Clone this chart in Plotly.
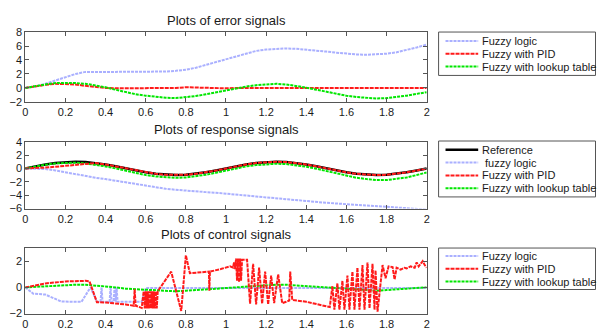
import plotly.graph_objects as go

# ---------------- data ----------------
t = [round(0.05 * i, 2) for i in range(41)]

err_fuzzy = [0, 0.2, 0.6, 1.1, 1.6, 2.0, 2.3, 2.35, 2.3, 2.3, 2.3, 2.3, 2.3, 2.3, 2.35, 2.45,
             2.6, 2.9, 3.3, 3.7, 4.2, 4.6, 5.0, 5.3, 5.5, 5.6, 5.65, 5.6, 5.5, 5.35, 5.2,
             5.05, 4.9, 4.8, 4.75, 4.8, 4.9, 5.1, 5.4, 5.8, 6.2]
err_pid = [0, 0.25, 0.45, 0.6, 0.6, 0.5, 0.3, 0.1, 0.0, -0.05, -0.05, -0.05, -0.05, -0.05, -0.05,
           0.0, 0.1, 0.05, 0.0, -0.05, -0.05, 0.0, 0.0, -0.05, -0.05, 0.0, 0.0, -0.05, 0.0, 0.0,
           0.0, 0.0, 0.0, 0.05, 0.05, 0.05, 0.05, 0.0, 0.0, 0.0, 0.0]
err_lut = [0, 0.3, 0.5, 0.7, 0.75, 0.7, 0.6, 0.4, 0.1, -0.25, -0.6, -0.9, -1.1, -1.3, -1.4, -1.45,
           -1.35, -1.15, -0.9, -0.6, -0.3, 0.0, 0.2, 0.4, 0.55, 0.6, 0.5, 0.3, 0.05, -0.25, -0.55,
           -0.85, -1.1, -1.3, -1.45, -1.5, -1.45, -1.3, -1.1, -0.85, -0.6]

resp_ref = [0, 0.31, 0.59, 0.81, 0.95, 1.0, 0.95, 0.81, 0.59, 0.31, 0, -0.31, -0.59, -0.81, -0.95,
            -1.0, -0.95, -0.81, -0.59, -0.31, 0, 0.31, 0.59, 0.81, 0.95, 1.0, 0.95, 0.81, 0.59,
            0.31, 0, -0.31, -0.59, -0.81, -0.95, -1.0, -0.95, -0.81, -0.59, -0.31, 0]
resp_fuzzy = [0, -0.02, -0.1, -0.3, -0.6, -0.9, -1.2, -1.4, -1.6, -1.85, -2.1, -2.35, -2.6, -2.85,
              -3.05, -3.2, -3.35, -3.45, -3.55, -3.65, -3.75, -3.9, -4.05, -4.2, -4.35, -4.5,
              -4.65, -4.8, -4.95, -5.05, -5.15, -5.25, -5.35, -5.45, -5.55, -5.65, -5.75, -5.85,
              -5.95, -6.05, -6.15]
resp_pid = [0, 0.04, 0.12, 0.25, 0.4, 0.55, 0.68, 0.8, 0.59, 0.31, 0, -0.31, -0.59, -0.81, -0.95,
            -1.0, -0.95, -0.81, -0.59, -0.31, 0, 0.31, 0.59, 0.81, 0.95, 1.0, 0.95, 0.81, 0.59,
            0.31, 0, -0.31, -0.59, -0.81, -0.95, -1.0, -0.95, -0.81, -0.59, -0.31, 0]
resp_lut = [0, 0.3, 0.55, 0.75, 0.85, 0.85, 0.75, 0.55, 0.3, 0.0, -0.35, -0.7, -1.0, -1.2, -1.35,
            -1.4, -1.35, -1.2, -0.95, -0.65, -0.3, 0.0, 0.3, 0.5, 0.65, 0.7, 0.65, 0.5, 0.25,
            -0.05, -0.4, -0.75, -1.1, -1.4, -1.6, -1.75, -1.75, -1.6, -1.35, -1.0, -0.6]

ctrl_fuzzy_t = [0, 0.04, 0.1, 0.18, 0.28, 0.325, 0.357, 0.375, 0.38, 0.385, 0.42, 0.425, 0.43,
                0.44, 0.445, 0.45, 0.455, 0.46, 0.5, 0.58, 0.6, 0.65, 0.8, 1.0, 1.2, 1.4, 1.6,
                1.8, 2.0]
ctrl_fuzzy = [0, -0.48, -0.55, -1.08, -1.1, 0.0, -1.1, -1.1, 0.0, -1.1, -1.1, 0.0, -1.1, -1.1,
              0.0, -1.1, 0.0, -1.1, -1.1, -1.1, -0.05, -0.05, -0.05, -0.05, -0.05, -0.05,
              -0.05, -0.05, -0.05]
ctrl_lut = [0, 0.05, 0.1, 0.15, 0.2, 0.2, 0.2, 0.15, 0.1, 0.0, -0.1, -0.15, -0.2, -0.25, -0.3,
            -0.3, -0.25, -0.2, -0.15, -0.1, 0.0, 0.05, 0.1, 0.15, 0.2, 0.2, 0.2, 0.15, 0.1, 0.05,
            0.0, -0.05, -0.1, -0.15, -0.2, -0.25, -0.2, -0.15, -0.1, -0.05, 0.0]

ctrl_pid_t = [0, 0.1, 0.2, 0.3, 0.32, 0.357, 0.4, 0.45, 0.5, 0.54, 0.545, 0.55, 0.58,
              0.59, 0.595, 0.6, 0.605, 0.61, 0.615, 0.62, 0.625, 0.63, 0.635, 0.64, 0.645, 0.65,
              0.655, 0.66, 0.727, 0.777, 0.80, 0.82, 0.9, 0.915, 0.917, 0.92, 0.974, 1.02,
              1.035, 1.04, 1.045, 1.05, 1.055, 1.06, 1.065, 1.07, 1.075, 1.08, 1.105, 1.12,
              1.135, 1.15, 1.165, 1.18, 1.195, 1.21, 1.225, 1.24, 1.26, 1.28, 1.3, 1.315, 1.32,
              1.33, 1.4, 1.45, 1.517, 1.53, 1.54, 1.555, 1.565, 1.58, 1.59, 1.605, 1.615,
              1.63, 1.64, 1.655, 1.665, 1.68, 1.69, 1.705, 1.715, 1.73, 1.74, 1.745,
              1.755, 1.78, 1.795, 1.81, 1.83, 1.84, 1.85, 1.87,
              1.89, 1.9, 1.92, 1.94, 1.95, 1.96, 1.97, 1.98, 1.99, 2.0]
ctrl_pid = [0, 0.3, 0.45, 0.5, 0.45, -1.13, -1.15, -1.2, -1.3, -1.4, -0.15, -1.4, -1.56,
            -0.3, -1.6, -0.3, -1.6, -0.3, -1.6, -0.3, -1.6, -0.3, -1.6, -0.3, -1.6, -0.3,
            -1.6, -0.3, 1.2, -1.8, 2.45, 1.08, 1.15, 1.2, -0.25, 1.2, 1.4, 1.6,
            1.5, 1.9, 1.4, 2.2, 0.5, 2.2, 0.4, 2.2, 0.5, 2.1, 2.1, -1.25, 1.8, -1.3,
            1.5, -1.25, 1.2, -1.3, 0.9, -1.2, 1.0, -1.2, -1.1, -1.0, 1.2,
            -0.96, -1.1, -1.25, -1.5, 0.1, -1.7, 0.3, -1.7, 0.5, -1.7, 0.9, -1.7,
            1.2, -1.7, 1.5, -1.7, 1.7, -1.7, 1.9, -1.6, 1.8, -1.7, 1.3,
            -1.85, 1.7, 0.7, 1.6, 1.55, 0.6, 1.5, 1.35,
            1.5, 1.45, 1.6, 1.5, 1.9, 1.6, 1.8, 2.0, 1.7, 1.5]

x_ticks = [0, 0.2, 0.4, 0.6, 0.8, 1, 1.2, 1.4, 1.6, 1.8, 2]
titles = ["Plots of error signals", "Plots of response signals", "Plots of control signals"]
legend1 = ["Fuzzy logic", "Fuzzy with PID", "Fuzzy with lookup table"]
legend2 = ["Reference", " fuzzy logic", "Fuzzy with PID", "Fuzzy with lookup table"]
legend3 = ["Fuzzy logic", "Fuzzy with PID", "Fuzzy with lookup table"]

# ---------------- styling ----------------
W, H = 599, 336
BLUE = "#aab0ff"
RED = "#ff1a1a"
GREEN = "#00e600"
BLACK = "#000000"
FONT = "Liberation Sans, Arial, sans-serif"
TXT = "#1a1a1a"

sty = {
    "fuzzy": dict(color=BLUE, width=2, dash="3px,1px"),
    "pid": dict(color=RED, width=2, dash="4px,1px"),
    "lut": dict(color=GREEN, width=2, dash="3px,1px"),
    "ref": dict(color=BLACK, width=2.5),
}

def py(px):
    return 1 - px / H

def pxx(px):
    return px / W

x_dom = [pxx(22.5), pxx(428)]
y_doms = [[py(99.5), py(27)], [py(210), py(140.7)], [py(319), py(251)]]

fig = go.Figure()

def add(x, y, k, ax):
    fig.add_trace(go.Scatter(x=x, y=y, mode="lines", line=sty[k], showlegend=False,
                             xaxis="x" + ax, yaxis="y" + ax, hoverinfo="skip"))

add(t, err_fuzzy, "fuzzy", "")
add(t, err_pid, "pid", "")
add(t, err_lut, "lut", "")

add(t, resp_ref, "ref", "2")
add(t, resp_fuzzy, "fuzzy", "2")
add(t, resp_lut, "lut", "2")
add(t, resp_pid, "pid", "2")

add(ctrl_fuzzy_t, ctrl_fuzzy, "fuzzy", "3")
add(t, ctrl_lut, "lut", "3")
add(ctrl_pid_t, ctrl_pid, "pid", "3")

axis_common = dict(showline=True, linecolor="#555555", linewidth=1, mirror="ticks",
                   ticks="inside", ticklen=4, tickcolor="#555555", showgrid=False,
                   zeroline=False, tickfont=dict(family=FONT, size=11, color=TXT))

layout = dict(width=W, height=H, margin=dict(l=0, r=0, t=0, b=0),
              paper_bgcolor="white", plot_bgcolor="white", showlegend=False)
yranges = [[-2, 8], [-6, 4], [-2, 3]]
yticks = [[-2, 0, 2, 4, 6, 8], [-6, -4, -2, 0, 2, 4], [-2, 0, 2]]
for i, suf in enumerate(["", "2", "3"]):
    layout["xaxis" + suf] = dict(axis_common, domain=x_dom, range=[0, 2], tickvals=x_ticks,
                                 anchor="y" + suf)
    layout["yaxis" + suf] = dict(axis_common, domain=y_doms[i], range=yranges[i],
                                 tickvals=yticks[i], anchor="x" + suf)
fig.update_layout(**layout)

# titles
for title, ypx in zip(titles, [15.5, 128, 237]):
    fig.add_annotation(text=title, x=pxx(226), y=py(ypx), xref="paper", yref="paper",
                       showarrow=False, font=dict(family=FONT, size=13, color=TXT),
                       xanchor="center", yanchor="middle")

# manual legends
def legend(items, keys, top, bottom):
    fig.add_shape(type="rect", xref="paper", yref="paper", x0=pxx(440), x1=pxx(598.5),
                  y0=py(bottom), y1=py(top), line=dict(color="#555555", width=1),
                  fillcolor="white")
    n = len(items)
    step = 13.3
    mid = (top + bottom) / 2
    for j, (txt, k) in enumerate(zip(items, keys)):
        yc = mid + step * (j - (n - 1) / 2)
        ln = dict(sty[k])
        fig.add_shape(type="line", xref="paper", yref="paper", x0=pxx(447), x1=pxx(480),
                      y0=py(yc), y1=py(yc), line=ln)
        fig.add_annotation(text=txt, x=pxx(482), y=py(yc), xref="paper", yref="paper",
                           showarrow=False, xanchor="left", yanchor="middle",
                           font=dict(family=FONT, size=11, color=TXT))

legend(legend1, ["fuzzy", "pid", "lut"], 27, 72)
legend(legend2, ["ref", "fuzzy", "pid", "lut"], 140, 198)
legend(legend3, ["fuzzy", "pid", "lut"], 251, 294)

fig.write_html("out.html")
